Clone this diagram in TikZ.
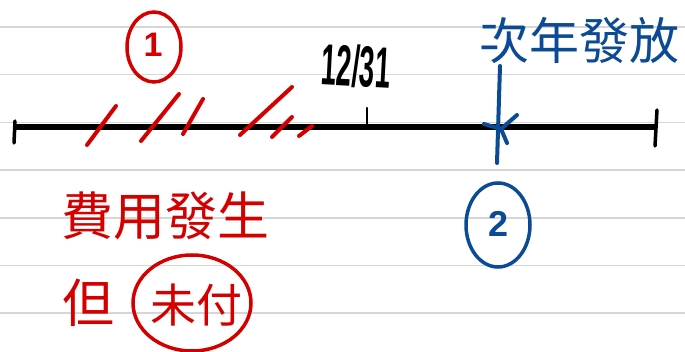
\documentclass[tikz,border=0pt]{standalone}
\usepackage{fontspec}
\usepackage{graphicx}
\newfontfamily\cjk{Noto Sans CJK TC}
\newfontfamily\hand{Liberation Sans}
\definecolor{penred}{HTML}{D40000}
\definecolor{penblue}{HTML}{0B4A94}
\begin{document}
\begin{tikzpicture}[x=1pt,y=-1pt,
  rule/.style={draw=black!16, line width=1.5pt},
  axisline/.style={draw=black, line width=6pt},
  tickline/.style={draw=black, line width=3.5pt, line cap=round},
  redpen/.style={draw=penred, line width=4pt, line cap=round},
  bluepen/.style={draw=penblue, line width=4pt, line cap=round},
  redtext/.style={text=penred, inner sep=0pt},
  bluetext/.style={text=penblue, inner sep=0pt}]
\useasboundingbox (0,0) rectangle (685,352);
\fill[white] (0,0) rectangle (685,352);
\foreach \y in {27,74.7,122.4,170.1,217.8,265.5,313.2}
  \draw[rule] (0,\y) -- (685,\y);
% axis
\coordinate (L) at (14,127);
\coordinate (R) at (657,127);
\coordinate (D) at (367,127);
\draw[axisline] (L) -- (R);
\draw[tickline] (15,121) -- (14,143);
\draw[tickline] (657,110) -- (655,146);
\draw[tickline, line width=2.5pt] (367,108) -- (D);
% 12/31
\node[inner sep=0pt, font=\hand\bfseries\fontsize{29}{29}\selectfont, rotate=-3] (date) at (356,66) {\scalebox{0.95}[2.0]{12/31}};
% red hatches
\draw[redpen] (87,145) -- (116,106);
\draw[redpen] (141,141) -- (179,94);
\draw[redpen] (183,134) -- (203,99);
\draw[redpen] (240,135) -- (292,87);
\draw[redpen] (272,137) -- (292,117);
\draw[redpen] (299,136) -- (312,126);
% circled 1
\node[redtext, font=\hand\bfseries\fontsize{34}{34}\selectfont] (one) at (153,45) {1};
\draw[redpen, line width=3.5pt] (one.center) ++(1,2) ellipse (27 and 35);
% blue mark
\coordinate (bt) at (500,66);
\coordinate (bb) at (497,163);
\coordinate (bc) at (501,129);
\draw[bluepen] (bt) -- (bb);
\draw[bluepen] (bc) -- (517,115);
\draw[bluepen] (bc) -- (484,124);
\draw[bluepen] (bc) -- (507,143);
\node[bluetext, font=\cjk\fontsize{50}{50}\selectfont] (next) at (579,40) {次年發放};
% red text
\node[redtext, font=\cjk\fontsize{52}{52}\selectfont] (fee) at (165,216) {費用發生};
\node[redtext, font=\cjk\fontsize{52}{52}\selectfont] (but) at (88,303) {但};
\node[redtext, font=\cjk\fontsize{46}{46}\selectfont] (unpaid) at (196,305) {未付};
\draw[redpen, line width=3.5pt] (192,303) ellipse (59 and 48);
% circled 2
\node[bluetext, font=\hand\bfseries\fontsize{36}{36}\selectfont] (two) at (499,224) {2};
\draw[bluepen, line width=3.5pt] (498,225) ellipse (32 and 42);
\end{tikzpicture}
\end{document}
